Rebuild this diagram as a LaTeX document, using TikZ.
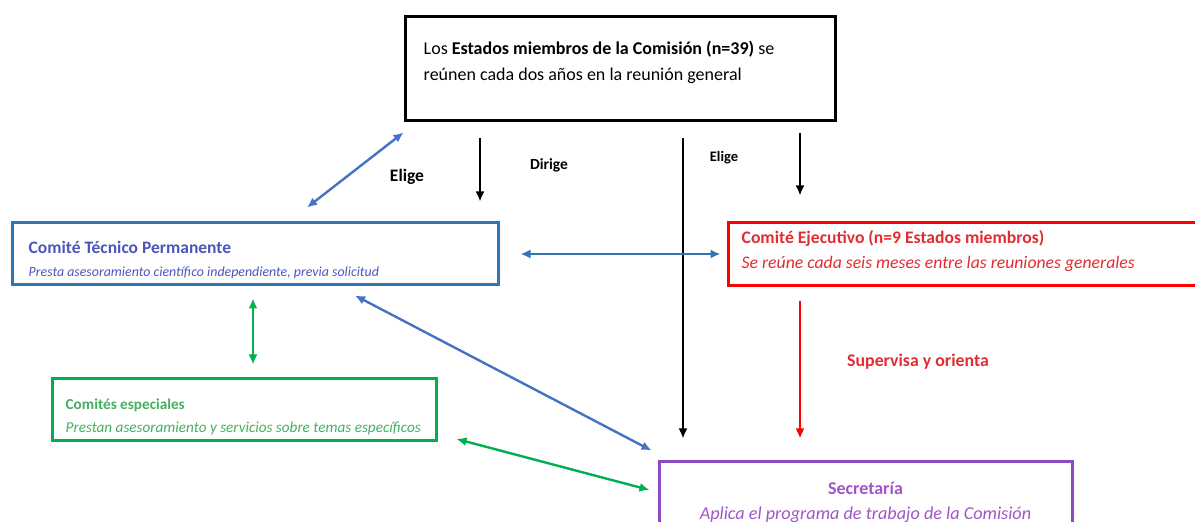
\documentclass[tikz,border=0pt]{standalone}
\usepackage{fontspec}
\setmainfont{Carlito}
\usetikzlibrary{arrows.meta}

\definecolor{azulcaja}{RGB}{46,117,182}
\definecolor{azulflecha}{RGB}{68,114,196}
\definecolor{tinta}{RGB}{75,85,190}
\definecolor{verde}{RGB}{0,176,80}
\definecolor{verdetxt}{RGB}{70,175,95}
\definecolor{rojo}{RGB}{255,0,0}
\definecolor{rojotxt}{RGB}{225,45,50}
\definecolor{morado}{RGB}{140,75,190}
\definecolor{moradotxt}{RGB}{160,85,200}

\begin{document}
\begin{tikzpicture}[x=1pt,y=1pt,>={Latex[length=10pt,width=9pt]},
   caja/.style={draw=#1, line width=3pt, inner sep=0pt},
   txt/.style={align=left, inner sep=0pt, anchor=west},
   flecha/.style={line width=2.4pt},
   rotulo/.style={inner sep=0pt, font=\bfseries\fontsize{#1}{#1}\selectfont}]
   \useasboundingbox (0,0) rectangle (1195,522);
   % cajas
   \node[caja=black, minimum width=430pt, minimum height=104pt] (gen) at (620,453) {};
   \node[caja=azulcaja, minimum width=486pt, minimum height=62pt] (ctp) at (255,268) {};
   \node[caja=rojo, minimum width=482pt, minimum height=63pt] (ce) at (969,267.5) {};
   \node[caja=verde, minimum width=384pt, minimum height=62pt] (esp) at (244,112) {};
   \node[caja=morado, minimum width=413pt, minimum height=73pt] (sec) at (865.5,23.5) {};
   % textos
   \node[txt, font=\fontsize{18}{26}\selectfont] (gentxt) at ([xshift=20pt,yshift=6.5pt]gen.west)
      {Los \textbf{Estados miembros de la Comisión (n=39)} se\\reúnen cada dos años en la reunión general};
   \node[txt, text=tinta, font=\fontsize{17.5}{23}\selectfont] (ctptxt) at ([xshift=18pt,yshift=-5.5pt]ctp.west)
      {\textbf{Comité Técnico Permanente}\\{\itshape\fontsize{13.9}{23}\selectfont Presta asesoramiento científico independiente, previa solicitud}};
   \node[txt, text=rojotxt, font=\fontsize{17.6}{25}\selectfont] (cetxt) at ([xshift=15pt,yshift=4pt]ce.west)
      {\textbf{Comité Ejecutivo (n=9 Estados miembros)}\\{\itshape\fontsize{17.7}{25}\selectfont Se reúne cada seis meses entre las reuniones generales}};
   \node[txt, text=verdetxt, font=\fontsize{15.2}{23}\selectfont] (esptxt) at ([xshift=15pt,yshift=-6.5pt]esp.west)
      {\textbf{Comités especiales}\\{\itshape\fontsize{15.2}{23}\selectfont Prestan asesoramiento y servicios sobre temas específicos}};
   \node[align=center, inner sep=0pt, text=moradotxt, font=\fontsize{18}{25}\selectfont] (sectxt) at ([yshift=-4pt]sec.center)
      {\textbf{Secretaría}\\{\itshape\fontsize{18.2}{25}\selectfont Aplica el programa de trabajo de la Comisión}};
   % rotulos
   \node[rotulo=17.5] (elige1) at (407,345) {Elige};
   \node[rotulo=15.5] (dirige) at (549,357) {Dirige};
   \node[rotulo=14.5] (elige2) at (724,364) {Elige};
   \node[rotulo=17.8, text=rojotxt] (supervisa) at (918,160) {Supervisa y orienta};
   % flechas
   \draw[flecha, azulflecha, <->] ([yshift=-10pt]gen.south west) -- ([xshift=52pt,yshift=14pt]ctp.north);
   \draw[flecha, ->] ([xshift=-140pt,yshift=-16pt]gen.south) -- ([xshift=225pt,yshift=20pt]ctp.north);
   \draw[flecha, ->] ([xshift=63pt,yshift=-16pt]gen.south) -- ([xshift=-182.5pt,yshift=22pt]sec.north);
   \draw[flecha, ->] ([xshift=180pt,yshift=-11pt]gen.south) -- ([xshift=-169pt,yshift=26pt]ce.north);
   \draw[flecha, azulcaja, <->] ([xshift=21pt]ctp.east) -- ([xshift=-6pt,yshift=.5pt]ce.west);
   \draw[flecha, verde, <->] ([xshift=-2pt,yshift=-12pt]ctp.south) -- ([xshift=9pt,yshift=13pt]esp.north);
   \draw[flecha, azulflecha, <->] ([xshift=100pt,yshift=-9pt]ctp.south) -- ([xshift=-6pt,yshift=10pt]sec.north west);
   \draw[flecha, verde, <->] ([xshift=19pt,yshift=-29pt]esp.east) -- ([xshift=-8pt,yshift=8.5pt]sec.west);
   \draw[flecha, rojo, ->] ([xshift=-169pt,yshift=-14pt]ce.south) -- ([xshift=-65.5pt,yshift=22pt]sec.north);
\end{tikzpicture}
\end{document}
